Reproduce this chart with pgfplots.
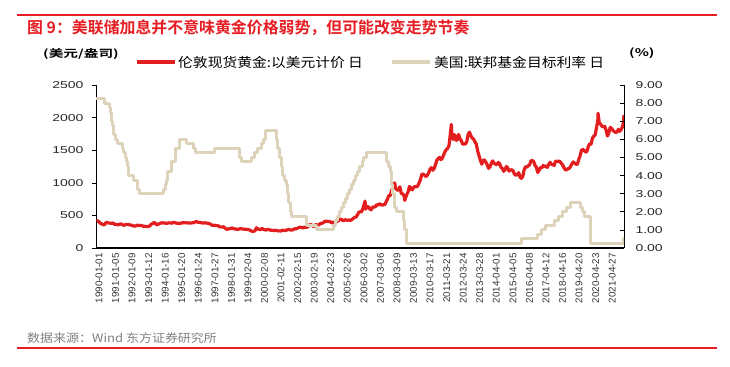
\documentclass[border=0pt]{standalone}
\usepackage{fontspec}
\usepackage{pgfplots}
\pgfplotsset{compat=1.18}
\usepackage{pgfplotstable}
\setmainfont{Liberation Sans}
\newfontfamily\cjk{Noto Sans CJK SC}[BoldFont={Noto Sans CJK SC Bold}]
\newfontfamily\cjkw{Noto Sans CJK SC}[FakeStretch=1.12]
\newfontfamily\cjkww{Noto Sans CJK SC}[FakeStretch=1.4,BoldFont={Noto Sans CJK SC Bold},BoldFeatures={FakeStretch=1.4}]
\newfontfamily\ticksw{Liberation Sans}[FakeStretch=1.4]
\newfontfamily\lsans{Liberation Sans}
\definecolor{goldred}{RGB}{226,30,30}
\definecolor{fedtan}{RGB}{221,211,187}
\definecolor{titlered}{RGB}{230,30,35}

\pgfplotstableread{
yr m v
1990 1 410
1990 2 417
1990 3 393
1990 4 374
1990 5 369
1990 6 352
1990 7 362
1990 8 395
1990 9 389
1990 10 381
1990 11 382
1990 12 378
1991 1 383
1991 2 364
1991 3 363
1991 4 358
1991 5 357
1991 6 367
1991 7 368
1991 8 356
1991 9 348
1991 10 358
1991 11 360
1991 12 361
1992 1 354
1992 2 354
1992 3 345
1992 4 338
1992 5 337
1992 6 341
1992 7 353
1992 8 343
1992 9 345
1992 10 344
1992 11 335
1992 12 334
1993 1 329
1993 2 330
1993 3 330
1993 4 342
1993 5 367
1993 6 372
1993 7 392
1993 8 378
1993 9 355
1993 10 364
1993 11 374
1993 12 383
1994 1 387
1994 2 382
1994 3 384
1994 4 377
1994 5 381
1994 6 386
1994 7 385
1994 8 380
1994 9 391
1994 10 389
1994 11 384
1994 12 379
1995 1 379
1995 2 376
1995 3 382
1995 4 391
1995 5 385
1995 6 387
1995 7 386
1995 8 383
1995 9 383
1995 10 383
1995 11 386
1995 12 387
1996 1 400
1996 2 405
1996 3 396
1996 4 393
1996 5 392
1996 6 385
1996 7 383
1996 8 387
1996 9 383
1996 10 381
1996 11 378
1996 12 369
1997 1 355
1997 2 346
1997 3 352
1997 4 344
1997 5 344
1997 6 341
1997 7 324
1997 8 324
1997 9 323
1997 10 325
1997 11 306
1997 12 289
1998 1 289
1998 2 297
1998 3 296
1998 4 308
1998 5 299
1998 6 292
1998 7 293
1998 8 284
1998 9 289
1998 10 296
1998 11 294
1998 12 291
1999 1 287
1999 2 287
1999 3 286
1999 4 282
1999 5 277
1999 6 262
1999 7 256
1999 8 257
1999 9 265
1999 10 311
1999 11 293
1999 12 283
2000 1 284
2000 2 300
2000 3 286
2000 4 280
2000 5 275
2000 6 286
2000 7 282
2000 8 274
2000 9 273
2000 10 270
2000 11 266
2000 12 272
2001 1 266
2001 2 262
2001 3 263
2001 4 261
2001 5 272
2001 6 270
2001 7 268
2001 8 273
2001 9 283
2001 10 283
2001 11 276
2001 12 276
2002 1 282
2002 2 296
2002 3 294
2002 4 303
2002 5 314
2002 6 321
2002 7 314
2002 8 310
2002 9 319
2002 10 317
2002 11 319
2002 12 333
2003 1 357
2003 2 359
2003 3 340
2003 4 328
2003 5 355
2003 6 356
2003 7 351
2003 8 359
2003 9 379
2003 10 379
2003 11 389
2003 12 407
2004 1 414
2004 2 405
2004 3 406
2004 4 404
2004 5 384
2004 6 392
2004 7 398
2004 8 401
2004 9 406
2004 10 420
2004 11 439
2004 12 442
2005 1 424
2005 2 423
2005 3 434
2005 4 428
2005 5 422
2005 6 431
2005 7 424
2005 8 438
2005 9 456
2005 10 470
2005 11 476
2005 12 510
2006 1 549
2006 2 555
2006 3 557
2006 4 610
2006 5 676
2006 5.5 720
2006 6 596
2006 7 633
2006 8 632
2006 9 598
2006 10 586
2006 11 627
2006 12 629
2007 1 631
2007 2 665
2007 3 655
2007 4 679
2007 5 667
2007 6 655
2007 7 665
2007 8 665
2007 9 712
2007 10 754
2007 11 806
2007 12 803
2008 1 889
2008 2 922
2008 3 968
2008 3.2 1000
2008 4 909
2008 5 888
2008 6 889
2008 7 939
2008 8 839
2008 9 829
2008 10 806
2008 10.6 730
2008 11 760
2008 12 816
2009 1 858
2009 2 943
2009 3 924
2009 4 890
2009 5 928
2009 6 946
2009 7 934
2009 8 949
2009 9 996
2009 10 1043
2009 11 1127
2009 12 1135
2010 1 1118
2010 2 1095
2010 3 1114
2010 4 1148
2010 5 1205
2010 6 1233
2010 7 1193
2010 8 1215
2010 9 1271
2010 10 1343
2010 11 1370
2010 12 1391
2011 1 1356
2011 2 1372
2011 3 1424
2011 4 1474
2011 5 1510
2011 6 1528
2011 7 1572
2011 8 1756
2011 8.7 1895
2011 9 1772
2011 10 1665
2011 11 1739
2011 12 1652
2012 1 1656
2012 2 1742
2012 3 1674
2012 4 1649
2012 5 1591
2012 6 1598
2012 7 1594
2012 8 1630
2012 9 1744
2012 10 1777
2012 11 1722
2012 12 1685
2013 1 1671
2013 2 1627
2013 3 1593
2013 4 1487
2013 5 1414
2013 6 1343
2013 7 1286
2013 8 1347
2013 9 1349
2013 10 1316
2013 11 1275
2013 12 1221
2014 1 1244
2014 2 1301
2014 3 1336
2014 4 1299
2014 5 1287
2014 6 1279
2014 7 1311
2014 8 1296
2014 9 1239
2014 10 1222
2014 11 1176
2014 12 1201
2015 1 1250
2015 2 1227
2015 3 1179
2015 4 1198
2015 5 1199
2015 6 1181
2015 7 1129
2015 8 1118
2015 9 1125
2015 10 1157
2015 11 1086
2015 12 1068
2016 1 1097
2016 2 1199
2016 3 1246
2016 4 1242
2016 5 1260
2016 6 1276
2016 7 1337
2016 8 1341
2016 9 1326
2016 10 1267
2016 11 1238
2016 12 1157
2017 1 1192
2017 2 1234
2017 3 1231
2017 4 1266
2017 5 1246
2017 6 1260
2017 7 1236
2017 8 1283
2017 9 1315
2017 10 1280
2017 11 1283
2017 12 1265
2018 1 1331
2018 2 1331
2018 3 1325
2018 4 1335
2018 5 1303
2018 6 1282
2018 7 1238
2018 8 1202
2018 9 1198
2018 10 1215
2018 11 1221
2018 12 1250
2019 1 1292
2019 2 1320
2019 3 1301
2019 4 1286
2019 5 1284
2019 6 1359
2019 7 1413
2019 8 1500
2019 9 1511
2019 10 1495
2019 11 1471
2019 12 1480
2020 1 1560
2020 2 1597
2020 3 1592
2020 4 1683
2020 5 1716
2020 6 1732
2020 7 1846
2020 8 1968
2020 8.1 2067
2020 9 1922
2020 10 1900
2020 11 1866
2020 12 1858
2021 1 1867
2021 2 1808
2021 3 1718
2021 4 1760
2021 5 1850
2021 6 1834
2021 7 1807
2021 8 1785
2021 9 1775
2021 10 1777
2021 11 1821
2021 12 1790
2022 1 1817
2022 2 1856
2022 2.8 1930
2022 3.1 2040
}\goldtable

\pgfplotstableread{
t r
1990.000 8.25
1990.529 8.00
1990.825 7.75
1990.866 7.50
1990.932 7.25
1990.962 7.00
1991.022 6.75
1991.085 6.25
1991.181 6.00
1991.326 5.75
1991.595 5.50
1991.699 5.25
1991.830 5.00
1991.847 4.75
1991.929 4.50
1991.967 4.00
1992.270 3.75
1992.503 3.25
1992.675 3.00
1994.093 3.25
1994.219 3.50
1994.293 3.75
1994.373 4.25
1994.622 4.75
1994.871 5.50
1995.085 6.00
1995.510 5.75
1995.964 5.50
1996.082 5.25
1997.227 5.50
1998.742 5.25
1998.786 5.00
1998.877 4.75
1999.493 5.00
1999.644 5.25
1999.874 5.50
2000.087 5.75
2000.219 6.00
2000.372 6.50
2001.005 6.00
2001.082 5.50
2001.214 5.00
2001.293 4.50
2001.367 4.00
2001.485 3.75
2001.636 3.50
2001.710 3.00
2001.751 2.50
2001.847 2.00
2001.943 1.75
2002.847 1.25
2003.479 1.00
2004.496 1.25
2004.608 1.50
2004.723 1.75
2004.860 2.00
2004.953 2.25
2005.088 2.50
2005.219 2.75
2005.334 3.00
2005.493 3.25
2005.603 3.50
2005.718 3.75
2005.833 4.00
2005.948 4.25
2006.082 4.50
2006.236 4.75
2006.353 5.00
2006.490 5.25
2007.712 4.75
2007.830 4.50
2007.943 4.25
2008.057 3.50
2008.079 3.00
2008.211 2.25
2008.328 2.00
2008.770 1.50
2008.827 1.00
2008.958 0.25
2015.959 0.50
2016.956 0.75
2017.203 1.00
2017.452 1.25
2017.951 1.50
2018.219 1.75
2018.449 2.00
2018.737 2.25
2018.967 2.50
2019.581 2.25
2019.715 2.00
2019.830 1.75
2020.172 1.25
2020.205 0.25
2022.170 0.50
2022.220 0.50
}\fedtable

\begin{document}
\begin{tikzpicture}[x=1bp,y=1bp]
\path[use as bounding box] (0,0) rectangle (730,366);
% frame lines
\draw[titlered, line width=1.1bp] (17,351) -- (717,351);
\draw[titlered, line width=1.1bp] (17,18) -- (717,18);
% title
\node[anchor=west, inner sep=0, text=titlered] at (27,338) {\cjk\bfseries\fontsize{15.9bp}{17bp}\selectfont 图 9：美联储加息并不意味黄金价格弱势，但可能改变走势节奏};
% source
\node[anchor=west, inner sep=0, text=black!50] at (27,28) {\cjkw\fontsize{11.6bp}{13bp}\selectfont 数据来源：Wind\ 东方证券研究所};
% unit labels
\node[anchor=west, inner sep=0] at (43,312) {\cjkww\bfseries\fontsize{10.5bp}{12bp}\selectfont (美元/盎司)};
\node[anchor=west, inner sep=0] at (629,313) {\cjkww\bfseries\fontsize{10.5bp}{12bp}\selectfont (\%)};
% legend
\draw[goldred, line width=3.2bp] (137,304) -- (175,304);
\node[anchor=west, inner sep=0] at (178,304) {\cjkw\fontsize{13.2bp}{15bp}\selectfont 伦敦现货黄金:以美元计价 日};
\draw[fedtan, line width=3.2bp] (392,304) -- (430,304);
\node[anchor=west, inner sep=0] at (434,304) {\cjkw\fontsize{13.2bp}{15bp}\selectfont 美国:联邦基金目标利率 日};

\begin{axis}[
  at={(96bp,118bp)}, anchor=south west,
  scale only axis, width=528bp, height=163bp,
  xmin=1990, xmax=2022.22, ymin=0, ymax=2500,
  axis x line*=bottom, axis y line*=left,
  x axis line style={-, line width=2bp, black},
  y axis line style={-, line width=0.8bp, black},
  xtick={1990.000,1991.0103,1992.0205,1993.0308,1994.0411,1995.0513,1996.0616,1997.0719,1998.0821,1999.0924,2000.1027,2001.1129,2002.1232,2003.1335,2004.1437,2005.1540,2006.1643,2007.1745,2008.1848,2009.1951,2010.2053,2011.2156,2012.2259,2013.2361,2014.2464,2015.2567,2016.2669,2017.2772,2018.2875,2019.2977,2020.3080,2021.3183},
  xticklabels={1990-01-01,1991-01-05,1992-01-09,1993-01-12,1994-01-16,1995-01-20,1996-01-24,1997-01-27,1998-01-31,1999-02-04,2000-02-08,2001-02-11,2002-02-15,2003-02-19,2004-02-23,2005-02-26,2006-03-02,2007-03-06,2008-03-09,2009-03-13,2010-03-17,2011-03-21,2012-03-24,2013-03-28,2014-04-01,2015-04-05,2016-04-08,2017-04-12,2018-04-16,2019-04-20,2020-04-23,2021-04-27},
  major x tick style={draw=none},
  xticklabel style={rotate=90, anchor=east, font={\lsans\fontsize{9.8bp}{10bp}\selectfont}, text=black!80, inner sep=1bp, yshift=-3bp},
  ytick={0,500,1000,1500,2000,2500},
  tick align=outside,
  major tick length=4bp,
  major y tick style={black, line width=0.6bp},
  yticklabel style={font={\ticksw\fontsize{10bp}{11bp}\selectfont}, text=black!85, xshift=-5bp},
  /pgf/number format/.cd, 1000 sep={}, assume math mode=true,
]
\addplot[goldred, line width=3.2bp, line join=round] table[x expr=\thisrow{yr}+(\thisrow{m}-0.5)/12, y=v] {\goldtable};
\end{axis}

\begin{axis}[
  at={(96bp,118bp)}, anchor=south west,
  scale only axis, width=528bp, height=163bp,
  xmin=1990, xmax=2022.22, ymin=0, ymax=9,
  axis x line=none, axis y line*=right,
  y axis line style={-, line width=0.8bp, black},
  ytick={0,1,...,9},
  tick align=inside,
  major tick length=4bp,
  major y tick style={black, line width=0.6bp},
  yticklabel style={font={\ticksw\fontsize{10bp}{11bp}\selectfont}, text=black!85, xshift=8bp},
  /pgf/number format/.cd, fixed, fixed zerofill, precision=2, assume math mode=true,
]
\addplot[fedtan, line width=3bp, const plot, line join=round] table[x=t, y=r] {\fedtable};
\end{axis}
\end{tikzpicture}
\end{document}
